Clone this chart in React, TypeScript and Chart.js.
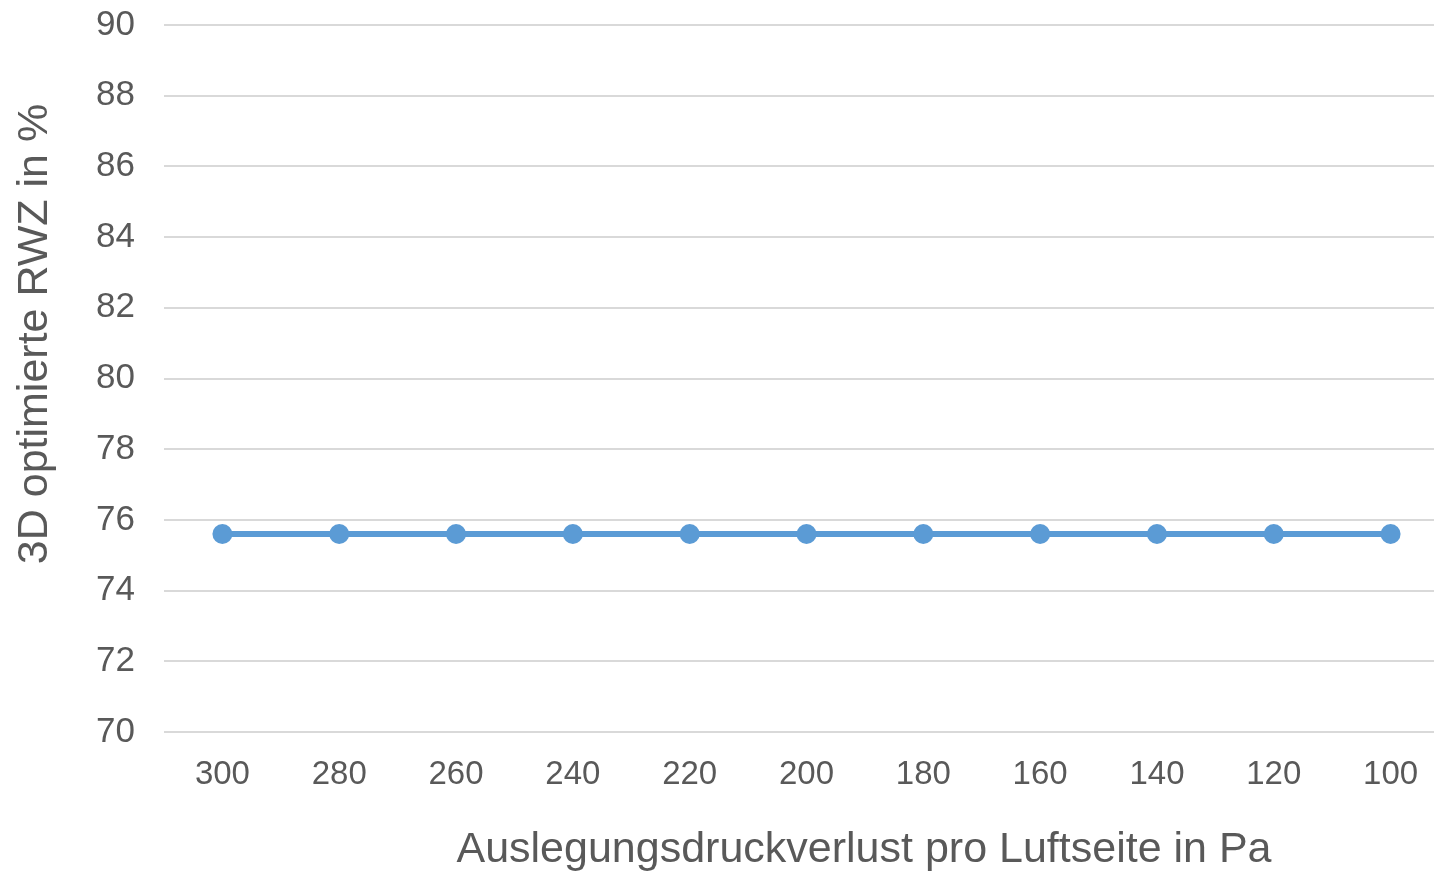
import React, { useEffect, useRef } from "react";
import { Chart, registerables } from "chart.js";

Chart.register(...registerables);

const categories = ["300", "280", "260", "240", "220", "200", "180", "160", "140", "120", "100"];
const rwzValues = [75.6, 75.6, 75.6, 75.6, 75.6, 75.6, 75.6, 75.6, 75.6, 75.6, 75.6];
const yMin = 70;
const yMax = 90;
const yStep = 2;
const xTitle = "Auslegungsdruckverlust pro Luftseite in Pa";
const yTitle = "3D optimierte RWZ in %";

const FONT = "'Liberation Sans', Arial, sans-serif";
const TEXT = "#595959";

const titlesPlugin = {
  id: "customTitles",
  afterDraw(chart: any) {
    const { ctx, chartArea } = chart;
    ctx.save();
    ctx.fillStyle = TEXT;
    ctx.font = `43px ${FONT}`;
    ctx.textAlign = "center";
    ctx.textBaseline = "middle";
    ctx.fillText(xTitle, chartArea.left + 700, chartArea.bottom + 118);
    ctx.translate(chartArea.left - 129, chartArea.top + 309);
    ctx.rotate(-Math.PI / 2);
    ctx.fillText(yTitle, 0, 0);
    ctx.restore();
  },
};

export default function App() {
  const ref = useRef<HTMLCanvasElement>(null);
  useEffect(() => {
    if (!ref.current) return;
    const chart = new Chart(ref.current, {
      type: "line",
      data: {
        labels: categories,
        datasets: [
          {
            data: rwzValues,
            borderColor: "#5B9BD5",
            backgroundColor: "#5B9BD5",
            borderWidth: 6,
            pointRadius: 10,
            pointHoverRadius: 10,
            pointBackgroundColor: "#5B9BD5",
            pointBorderWidth: 0,
            tension: 0,
          },
        ],
      },
      options: {
        animation: false,
        responsive: true,
        maintainAspectRatio: false,
        layout: { padding: { top: 25, right: 0, left: 0, bottom: 0 } },
        plugins: { legend: { display: false }, tooltip: { enabled: false } },
        scales: {
          x: {
            offset: true,
            grid: { display: false, drawTicks: false },
            border: { display: false },
            ticks: { color: TEXT, font: { family: FONT, size: 33 }, padding: 23, maxRotation: 0 },
            afterFit(scale: any) {
              scale.height = 142;
              scale.paddingLeft = 0;
              scale.paddingRight = 0;
            },
          },
          y: {
            min: yMin,
            max: yMax,
            grid: { color: "#d9d9d9", lineWidth: 2, drawTicks: false },
            border: { display: false },
            ticks: { stepSize: yStep, color: TEXT, font: { family: FONT, size: 35 }, padding: 29 },
            afterFit(scale: any) {
              scale.width = 164;
              scale.paddingTop = 0;
              scale.paddingBottom = 0;
            },
          },
        },
      },
      plugins: [titlesPlugin],
    });
    return () => chart.destroy();
  }, []);
  return (
    <div style={{ position: "fixed", left: 0, top: 0, width: 1459, height: 874, background: "#fff" }}>
      <canvas ref={ref} />
    </div>
  );
}
